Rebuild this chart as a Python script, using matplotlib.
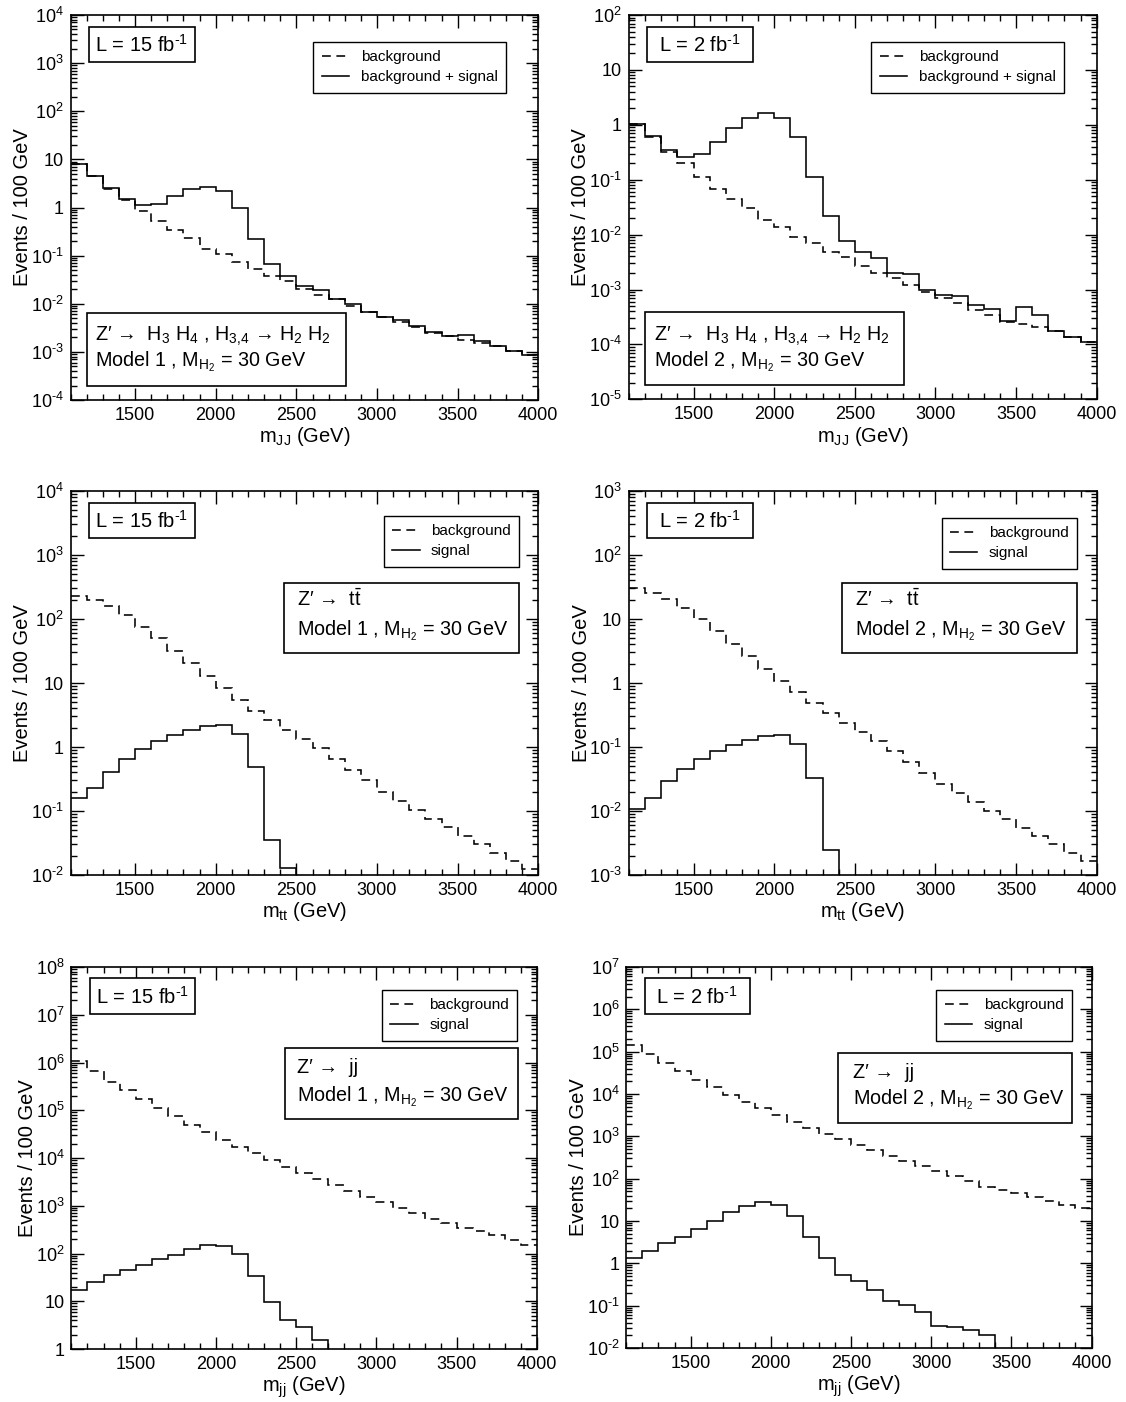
import numpy as np
import matplotlib
matplotlib.use("Agg")
import matplotlib.pyplot as plt
from matplotlib.ticker import FixedLocator, FuncFormatter, NullFormatter, MultipleLocator
from matplotlib.patches import Rectangle
from matplotlib.lines import Line2D

plt.rcParams['font.family'] = ['Liberation Sans', 'DejaVu Sans']
plt.rcParams['mathtext.fontset'] = 'custom'
plt.rcParams['mathtext.rm'] = 'Liberation Sans'
plt.rcParams['mathtext.it'] = 'Liberation Sans:italic'
plt.rcParams['mathtext.bf'] = 'Liberation Sans:bold'

# ---------------- data ----------------
edges = np.arange(1100, 4001, 100)

# Panel 1: Z' -> H3 H4 (Model 1, L = 15 fb^-1), m_JJ
p1_bkg = [8.0, 4.5, 2.4, 1.4, 0.86, 0.53, 0.34, 0.23, 0.14, 0.107, 0.073, 0.052, 0.038, 0.029,
          0.0206, 0.0152, 0.0124, 0.009, 0.0067, 0.0053, 0.0041, 0.0033, 0.0025, 0.0021, 0.0018,
          0.00156, 0.00134, 0.00106, 0.00085]
p1_tot = [8.0, 4.6, 2.5, 1.5, 1.15, 1.2, 1.7, 2.4, 2.7, 2.2, 0.98, 0.22, 0.066, 0.037,
          0.023, 0.019, 0.0128, 0.0099, 0.0069, 0.0054, 0.0045, 0.0034, 0.0026, 0.0021, 0.0022,
          0.0017, 0.00135, 0.00106, 0.00088]

# Panel 2: Z' -> H3 H4 (Model 2, L = 2 fb^-1), m_JJ
p2_bkg = [1.03, 0.6, 0.32, 0.2, 0.11, 0.067, 0.044, 0.031, 0.0186, 0.0139, 0.0091, 0.0069, 0.0049,
          0.0039, 0.0027, 0.002, 0.00163, 0.0012, 0.0009, 0.0007, 0.00056, 0.00042, 0.00034,
          0.00026, 0.00024, 0.00021, 0.000174, 0.000137, 0.000111]
p2_tot = [1.03, 0.62, 0.35, 0.26, 0.29, 0.48, 0.87, 1.35, 1.64, 1.33, 0.59, 0.11, 0.0217, 0.0077,
          0.0048, 0.0038, 0.002, 0.0019, 0.001, 0.0008, 0.00077, 0.00053, 0.00044, 0.00027,
          0.00048, 0.00034, 0.000177, 0.000137, 0.000111]

# Panel 3: Z' -> t tbar (Model 1, L = 15 fb^-1)
p3_bkg = [231, 197, 157, 114, 76, 50, 32, 20.4, 12.9, 8.3, 5.4, 3.7, 2.6, 1.85, 1.32, 0.95, 0.66,
          0.44, 0.30, 0.20, 0.143, 0.104, 0.076, 0.057, 0.041, 0.0305, 0.0223, 0.0167, 0.0125]
p3_sig = [0.158, 0.226, 0.41, 0.66, 0.94, 1.24, 1.55, 1.83, 2.14, 2.21, 1.58, 0.48, 0.035, 0.0127,
          0, 0, 0, 0, 0, 0, 0, 0, 0, 0, 0, 0, 0, 0, 0]

# Panel 4: Z' -> t tbar (Model 2, L = 2 fb^-1)
p4_bkg = [30.4, 25.4, 20.5, 14.8, 10.0, 6.4, 4.1, 2.6, 1.68, 1.08, 0.72, 0.485, 0.335, 0.237,
          0.171, 0.122, 0.0855, 0.0577, 0.039, 0.0268, 0.0192, 0.0137, 0.0101, 0.0074, 0.0055,
          0.004, 0.003, 0.00223, 0.00167]
p4_sig = [0.0109, 0.0157, 0.0292, 0.0454, 0.065, 0.0855, 0.106, 0.127, 0.148, 0.154, 0.11, 0.0329,
          0.00245, 0, 0, 0, 0, 0, 0, 0, 0, 0, 0, 0, 0, 0, 0, 0, 0]

# Panel 5: Z' -> jj (Model 1, L = 15 fb^-1)
p5_bkg = [1.05e6, 6.5e5, 4.0e5, 2.6e5, 1.68e5, 1.11e5, 7.4e4, 4.95e4, 3.5e4, 2.44e4, 1.74e4,
          1.26e4, 9.1e3, 6.6e3, 4.8e3, 3.6e3, 2.74e3, 2.05e3, 1.56e3, 1.22e3, 916, 697, 530, 430,
          348, 296, 245, 192, 151]
p5_sig = [17.2, 24.9, 35.5, 45, 57.5, 75.5, 93, 124, 151, 146, 96, 34.3, 9.8, 4.0, 2.93, 1.54,
          0, 0, 0, 0, 0, 0, 0, 0, 0, 0, 0, 0, 0]

# Panel 6: Z' -> jj (Model 2, L = 2 fb^-1)
p6_bkg = [1.42e5, 9.0e4, 5.4e4, 3.46e4, 2.16e4, 1.43e4, 9.6e3, 6.5e3, 4.56e3, 3.18e3, 2.21e3,
          1.6e3, 1.13e3, 862, 622, 474, 349, 266, 203, 155, 118, 88, 65, 54, 45, 37.6, 30.3,
          23.9, 20]
p6_sig = [1.37, 1.97, 2.98, 4.13, 6.4, 10.2, 16.1, 22.7, 27.7, 23.9, 13.2, 4.13, 1.32, 0.535,
          0.386, 0.237, 0.126, 0.105, 0.069, 0.0335, 0.0306, 0.027, 0.0206, 0, 0, 0, 0, 0, 0]

xticks = [1500, 2000, 2500, 3000, 3500, 4000]

MH2 = 'M$_{\\mathrm{H}_2}$'
panels = [
    dict(bkg=p1_bkg, sol=p1_tot, ydec=(-4, 4), lumi='L = 15 fb$^{\\text{-}1}$',
         sol_label='background + signal', xlabel='m$_{\\mathrm{JJ}}$ (GeV)',
         line1="Z\u2032 \u2192  H$_3$ H$_4$ , H$_{3{,}4}$ \u2192 H$_2$ H$_2$",
         line2='Model 1 , ' + MH2 + ' = 30 GeV'),
    dict(bkg=p2_bkg, sol=p2_tot, ydec=(-5, 2), lumi='L = 2 fb$^{\\text{-}1}$',
         sol_label='background + signal', xlabel='m$_{\\mathrm{JJ}}$ (GeV)',
         line1="Z\u2032 \u2192  H$_3$ H$_4$ , H$_{3{,}4}$ \u2192 H$_2$ H$_2$",
         line2='Model 2 , ' + MH2 + ' = 30 GeV'),
    dict(bkg=p3_bkg, sol=p3_sig, ydec=(-2, 4), lumi='L = 15 fb$^{\\text{-}1}$',
         sol_label='signal', xlabel='m$_{\\mathrm{tt}}$ (GeV)',
         line1="Z\u2032 \u2192  t$\\bar{\\mathrm{t}}$",
         line2='Model 1 , ' + MH2 + ' = 30 GeV'),
    dict(bkg=p4_bkg, sol=p4_sig, ydec=(-3, 3), lumi='L = 2 fb$^{\\text{-}1}$',
         sol_label='signal', xlabel='m$_{\\mathrm{tt}}$ (GeV)',
         line1="Z\u2032 \u2192  t$\\bar{\\mathrm{t}}$",
         line2='Model 2 , ' + MH2 + ' = 30 GeV'),
    dict(bkg=p5_bkg, sol=p5_sig, ydec=(0, 8), lumi='L = 15 fb$^{\\text{-}1}$',
         sol_label='signal', xlabel='m$_{\\mathrm{jj}}$ (GeV)',
         line1="Z\u2032 \u2192  jj",
         line2='Model 1 , ' + MH2 + ' = 30 GeV'),
    dict(bkg=p6_bkg, sol=p6_sig, ydec=(-2, 7), lumi='L = 2 fb$^{\\text{-}1}$',
         sol_label='signal', xlabel='m$_{\\mathrm{jj}}$ (GeV)',
         line1="Z\u2032 \u2192  jj",
         line2='Model 2 , ' + MH2 + ' = 30 GeV'),
]

W, H = 1126, 1402
# axes pixel boxes: left, right, top, bottom
axboxes = [(70.6, 538.3, 15, 400), (629, 1096.7, 15, 399.3),
           (70.6, 538.3, 491, 875), (629, 1096.7, 491, 875),
           (71.4, 537, 967, 1349), (626.4, 1091.5, 967, 1348)]

# info box (axes fractions): x0, x1, y0, y1, text x, line1 y, line2 y
infos = [(0.034, 0.589, 0.036, 0.226, 0.053, 0.164, 0.099),
         (0.035, 0.588, 0.036, 0.226, 0.053, 0.164, 0.099),
         (0.456, 0.959, 0.577, 0.761, 0.484, 0.719, 0.636),
         (0.456, 0.958, 0.577, 0.761, 0.484, 0.719, 0.636),
         (0.459, 0.959, 0.602, 0.788, 0.484, 0.736, 0.660),
         (0.456, 0.958, 0.590, 0.774, 0.488, 0.722, 0.651)]
legpos = [(0.931, 0.930), (0.930, 0.930), (0.959, 0.935), (0.958, 0.930),
          (0.958, 0.940), (0.958, 0.940)]


def yfmt(v, pos):
    e = int(round(np.log10(v)))
    if e == 0:
        return '1'
    if e == 1:
        return '10'
    if e < 0:
        return '10$^{\\text{-}%d}$' % (-e)
    return '10$^{%d}$' % e


fig = plt.figure(figsize=(W / 100, H / 100), dpi=100)
dashes = (0, (5.5, 3.5))
lw = 1.15

for i, p in enumerate(panels):
    l, r, t, b = axboxes[i]
    ax = fig.add_axes([l / W, 1 - b / H, (r - l) / W, (b - t) / H])
    ax.set_yscale('log')
    bkg = np.asarray(p['bkg'], float)
    sol = np.asarray(p['sol'], float)
    sol = np.where(sol > 0, sol, 1e-30)
    ax.stairs(bkg, edges, baseline=None, color='black', lw=lw, linestyle=dashes, zorder=2)
    ax.stairs(sol, edges, baseline=None, color='black', lw=lw, zorder=3)
    lo, hi = p['ydec']
    ax.set_xlim(1100, 4000)
    ax.set_ylim(10.0 ** lo, 10.0 ** hi)
    ax.xaxis.set_major_locator(FixedLocator(xticks))
    ax.xaxis.set_minor_locator(FixedLocator(edges))
    majors = 10.0 ** np.arange(lo, hi + 1)
    minors = [m * d for d in 10.0 ** np.arange(lo, hi) for m in range(2, 10)]
    ax.yaxis.set_major_locator(FixedLocator(majors))
    ax.yaxis.set_minor_locator(FixedLocator(minors))
    ax.yaxis.set_major_formatter(FuncFormatter(yfmt))
    ax.yaxis.set_minor_formatter(NullFormatter())
    ax.tick_params(which='both', direction='in', top=True, right=True, labelsize=13, width=1.0)
    ax.tick_params(which='major', length=9, pad=5)
    ax.tick_params(which='minor', length=4.5)
    for s in ax.spines.values():
        s.set_linewidth(1.2)
    ax.set_xlabel(p['xlabel'], fontsize=14.5, labelpad=1)
    ax.set_ylabel('Events / 100 GeV', fontsize=14.5, labelpad=-1)

    # luminosity box
    ax.add_patch(Rectangle((0.039, 0.877), 0.226, 0.093, transform=ax.transAxes,
                           facecolor='white', edgecolor='black', lw=1.2, zorder=5))
    ax.text(0.152, 0.922, p['lumi'], transform=ax.transAxes, ha='center', va='center',
            fontsize=14.5, zorder=6)

    # info box
    x0, x1, y0, y1, tx, ly1, ly2 = infos[i]
    ax.add_patch(Rectangle((x0, y0), x1 - x0, y1 - y0, transform=ax.transAxes,
                           facecolor='white', edgecolor='black', lw=1.2, zorder=5))
    ax.text(tx, ly1, p['line1'], transform=ax.transAxes, ha='left', va='center',
            fontsize=14.2, zorder=6)
    ax.text(tx, ly2, p['line2'], transform=ax.transAxes, ha='left', va='center',
            fontsize=14.2, zorder=6)

    # legend
    handles = [Line2D([], [], color='black', lw=lw, linestyle=dashes),
               Line2D([], [], color='black', lw=lw)]
    leg = ax.legend(handles, ['background', p['sol_label']], loc='upper right',
                    bbox_to_anchor=legpos[i], bbox_transform=ax.transAxes,
                    frameon=True, fancybox=False, edgecolor='black', framealpha=1,
                    fontsize=11, handlelength=1.8, handletextpad=0.75,
                    borderpad=0.55, labelspacing=0.4, borderaxespad=0)
    leg.get_frame().set_linewidth(1.0)
    leg.set_zorder(7)

fig.savefig('out.png', dpi=100)
